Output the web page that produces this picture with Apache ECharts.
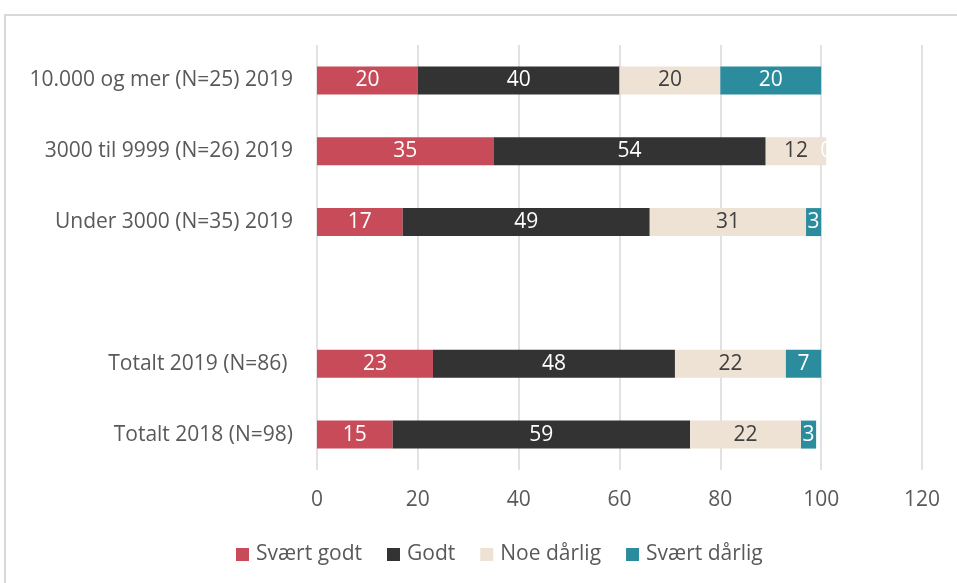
<!DOCTYPE html>
<html>
<head>
<meta charset="utf-8">
<script src="https://cdn.jsdelivr.net/npm/echarts@6/dist/echarts.min.js"></script>
<style>
  html, body { margin: 0; padding: 0; background: #fff; }
  #chart { width: 957px; height: 583px; }
</style>
</head>
<body>
<div id="chart"></div>
<script>
const categories = [
  '10.000 og mer (N=25) 2019',
  '3000 til 9999 (N=26) 2019',
  'Under 3000 (N=35) 2019',
  '',
  'Totalt 2019 (N=86) ',
  'Totalt 2018 (N=98)'
];
const svaertGodt  = [20, 35, 17, null, 23, 15];
const godt        = [40, 54, 49, null, 48, 59];
const noeDarlig   = [20, 12, 31, null, 22, 22];
const svaertDarlig = [20, 0, 3, null, 7, 3];

const seriesNames = ['Svært godt', 'Godt', 'Noe dårlig', 'Svært dårlig'];
const seriesData = [svaertGodt, godt, noeDarlig, svaertDarlig];
const colors = ['#c84b5a', '#333333', '#ede2d4', '#2b8c9e'];
const labelColors = ['#ffffff', '#ffffff', '#404040', '#ffffff'];

const font = '"Open Sans", sans-serif';

const chart = echarts.init(document.getElementById('chart'));

chart.setOption({
  animation: false,
  graphic: [{
    type: 'rect',
    shape: { x: 5, y: 15, width: 1000, height: 620 },
    style: { fill: 'none', stroke: '#d9d9d9', lineWidth: 2 },
    silent: true
  }],
  grid: { left: 317, right: 35, top: 45, bottom: 113, containLabel: false },
  legend: {
    bottom: 13,
    left: 231,
    itemWidth: 13,
    itemHeight: 13,
    itemGap: 25,
    icon: 'rect',
    textStyle: { fontFamily: font, fontSize: 21, color: '#595959', padding: [0, 0, 0, 2] },
    data: seriesNames
  },
  xAxis: {
    type: 'value',
    min: 0,
    max: 120,
    interval: 20,
    axisLine: { show: false },
    axisTick: { show: false },
    splitLine: { lineStyle: { color: '#d9d9d9', width: 1.5 } },
    axisLabel: { fontFamily: font, fontSize: 21, color: '#595959', margin: 20 }
  },
  yAxis: {
    type: 'category',
    inverse: true,
    data: categories,
    axisLine: { show: false },
    axisTick: { show: false },
    axisLabel: { fontFamily: font, fontSize: 21, color: '#595959', margin: 24 }
  },
  series: seriesNames.map((name, i) => ({
    name: name,
    type: 'bar',
    stack: 'total',
    barWidth: 28,
    data: seriesData[i],
    itemStyle: { color: colors[i] },
    label: {
      show: true,
      position: 'inside',
      fontFamily: font,
      fontSize: 21,
      color: labelColors[i]
    }
  }))
});

window.addEventListener('resize', () => chart.resize());
</script>
</body>
</html>
